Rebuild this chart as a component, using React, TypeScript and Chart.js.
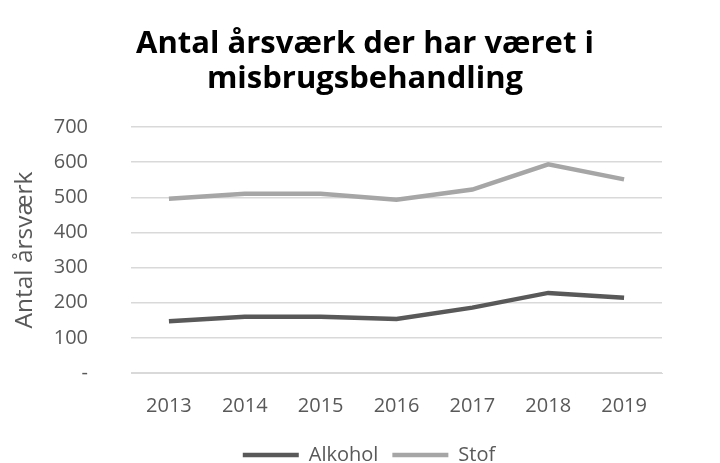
import React, { useEffect, useRef } from "react";
import { Chart, registerables } from "chart.js";

Chart.register(...registerables);

const years = ["2013", "2014", "2015", "2016", "2017", "2018", "2019"];
const alkohol = [147, 160, 160, 154, 186, 228, 214];
const stof = [496, 510, 510, 493, 522, 594, 551];
const titleLines = ["Antal årsværk der har været i", "misbrugsbehandling"];
const yTitle = "Antal årsværk";

// shifts the title and legend boxes so they are centred like the reference
const shiftBoxes = {
  id: "shiftBoxes",
  afterLayout(chart: any) {
    if (chart.titleBlock) chart.titleBlock.left = 68;
    if (chart.legend) chart.legend.left = 76;
  },
};

export default function App() {
  const ref = useRef<HTMLCanvasElement | null>(null);
  useEffect(() => {
    if (!ref.current) return;
    const font = "'Open Sans', sans-serif";
    const chart = new Chart(ref.current, {
      type: "line",
      data: {
        labels: years,
        datasets: [
          {
            label: "Alkohol",
            data: alkohol,
            borderColor: "#595959",
            backgroundColor: "#595959",
            borderWidth: 4.5,
            pointRadius: 0,
            tension: 0,
          },
          {
            label: "Stof",
            data: stof,
            borderColor: "#a6a6a6",
            backgroundColor: "#a6a6a6",
            borderWidth: 4.5,
            pointRadius: 0,
            tension: 0,
          },
        ],
      },
      plugins: [shiftBoxes],
      options: {
        responsive: true,
        maintainAspectRatio: false,
        animation: false,
        layout: { padding: { left: 10, right: 58, top: 10, bottom: -12 } },
        plugins: {
          title: {
            display: true,
            text: titleLines,
            color: "#000000",
            font: { family: font, size: 31, weight: "bold", lineHeight: 1.13 },
            padding: { top: 17, bottom: 30 },
          },
          legend: {
            position: "bottom",
            labels: {
              usePointStyle: true,
              pointStyle: "line",
              pointStyleWidth: 56,
              color: "#595959",
              font: { family: font, size: 20 },
              padding: 14,
              boxHeight: 4,
            },
          },
          tooltip: { enabled: false },
        },
        scales: {
          x: {
            offset: true,
            grid: { display: false },
            border: { color: "#d9d9d9" },
            ticks: { color: "#595959", font: { family: font, size: 20 }, padding: 13 },
          },
          y: {
            min: 0,
            max: 700,
            afterFit: (scale: any) => {
              scale.width = 121;
            },
            ticks: {
              stepSize: 100,
              color: "#595959",
              font: { family: font, size: 20 },
              padding: 43,
              callback: (v: any) => (Number(v) === 0 ? "-" : String(v)),
            },
            grid: { color: "#d9d9d9", lineWidth: 1.5, drawTicks: false },
            border: { display: false },
            title: {
              display: true,
              text: yTitle,
              color: "#595959",
              font: { family: font, size: 24.5 },
              padding: 0,
            },
          },
        },
      },
    });
    return () => chart.destroy();
  }, []);
  return (
    <div style={{ position: "fixed", left: 0, top: 0, width: 720, height: 463, background: "#fff" }}>
      <canvas ref={ref} />
    </div>
  );
}
